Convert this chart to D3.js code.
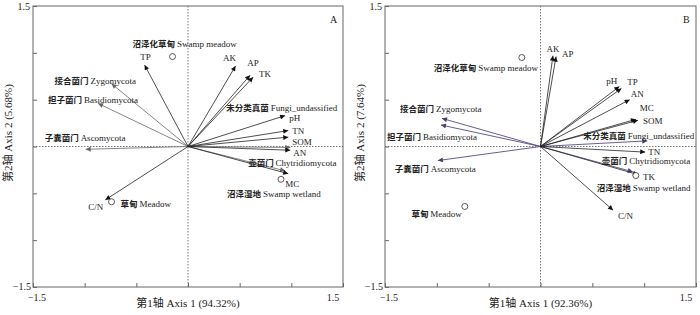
<!DOCTYPE html>
<html>
<head>
<meta charset="utf-8">
<script src="https://cdn.jsdelivr.net/npm/d3@7"></script>
<style>
  body { margin: 0; background: #fff; }
  text { font-family: "Liberation Serif", "Noto Sans CJK SC", serif; fill: #222; }
  .cn { font-family: "Noto Sans CJK SC", sans-serif; font-weight: bold; }
</style>
</head>
<body>
<svg id="rda" width="700" height="315"></svg>
<script>
// ----- data -----
const envNames = ["TP", "AK", "AP", "TK", "pH", "TN", "SOM", "AN", "MC", "C/N"];
const envA_x = [-0.42, 0.46, 0.60, 0.63, 0.94, 0.97, 0.97, 0.99, 0.97, -0.80];
const envA_y = [0.87, 0.86, 0.76, 0.74, 0.33, 0.17, 0.10, -0.04, -0.29, -0.57];
const envB_x = [0.78, 0.12, 0.15, 0.94, 0.76, 1.01, 0.94, 0.86, 0.92, 0.70];
const envB_y = [0.62, 0.97, 0.96, -0.30, 0.64, -0.06, 0.28, 0.50, 0.29, -0.68];

const fungiCn = ["接合菌门", "担子菌门", "子囊菌门", "未分类真菌", "壶菌门"];
const fungiEn = ["Zygomycota", "Basidiomycota", "Ascomycota", "Fungi_undassified", "Chytridiomycota"];
const fungiA_x = [-0.74, -0.87, -0.99, 0.99, 0.94];
const fungiA_y = [0.67, 0.46, -0.03, -0.01, -0.26];
const fungiB_x = [-0.95, -0.96, -0.99, 1.03, 0.89];
const fungiB_y = [0.30, 0.23, -0.15, 0.06, -0.27];

const siteCn = ["沼泽化草甸", "草甸", "沼泽湿地"];
const siteEn = ["Swamp meadow", "Meadow", "Swamp wetland"];
const siteA_x = [-0.15, -0.74, 0.90];
const siteA_y = [0.96, -0.59, -0.35];
const siteB_x = [-0.18, -0.73, 0.92];
const siteB_y = [0.95, -0.64, -0.31];

const axisA = ["第1轴 Axis 1 (94.32%)", "第2轴 Axis 2 (5.68%)"];
const axisB = ["第1轴 Axis 1 (92.36%)", "第2轴 Axis 2 (7.64%)"];
const axisTicks = [-1.5, -1, -0.5, 0, 0.5, 1, 1.5];

// ----- label placement (pixel offsets from the arrow tip / site point) -----
const labA = {
  TP: [1, -5, "middle"], AK: [-6, -5, "middle"], AP: [3, -9, "middle"], TK: [6, 0, "start"],
  pH: [4, 5, "start"], TN: [4, 3, "start"], SOM: [4, 8, "start"], AN: [3, 5.5, "start"],
  MC: [-3, 13, "start"], "C/N": [-2, 10, "end"],
  Zygomycota: [-57, 0, "start"], Basidiomycota: [-50, 0, "start"], Ascomycota: [-41, -8, "start"],
  Fungi_undassified: [-64, -36, "start"], Chytridiomycota: [-37, -5, "start"],
  "Swamp meadow": [-40, -10, "start"], Meadow: [9, 5, "start"], "Swamp wetland": [-54, 18, "start"]
};
const labB = {
  AK: [0, -4, "middle"], AP: [6, 0, "start"], pH: [-2, -3, "end"], TP: [6, -3, "start"],
  AN: [1, -3, "start"], MC: [4, -8, "start"], SOM: [5, 4, "start"], TN: [3, 3, "start"],
  TK: [5, 5, "start"], "C/N": [5, 9, "start"],
  Zygomycota: [-42, -6, "start"], Basidiomycota: [-54, 15, "start"], Ascomycota: [-43, 11, "start"],
  Fungi_undassified: [-64, -2, "start"], Chytridiomycota: [-31, -8, "start"],
  "Swamp meadow": [-88, 13, "start"], Meadow: [-3, 11, "end"], "Swamp wetland": [-39, 15, "start"]
};

const svg = d3.select("svg#rda");
const defs = svg.append("defs");

function addMarker(id, color) {
  defs.append("marker")
      .attr("id", id)
      .attr("viewBox", "0 -5 10 10")
      .attr("refX", 10).attr("refY", 0)
      .attr("markerUnits", "userSpaceOnUse")
      .attr("markerWidth", 7).attr("markerHeight", 5)
      .attr("orient", "auto")
    .append("path")
      .attr("d", "M0,-5L10,0L0,5Z")
      .attr("fill", color);
}
addMarker("headEnv", "#111");
addMarker("headFunA", "#666");
addMarker("headFunB", "#4a3d6e");

function drawPanel(p) {
  const x = d3.scaleLinear().domain([-1.5, 1.5]).range([p.left, p.right]);
  const y = d3.scaleLinear().domain([-1.5, 1.5]).range([p.bottom, p.top]);
  const g = svg.append("g");

  // dotted zero lines
  g.append("line").attr("x1", p.left).attr("x2", p.right).attr("y1", y(0)).attr("y2", y(0))
   .attr("stroke", "#555").attr("stroke-dasharray", "1.5,1.5").attr("stroke-width", 0.8);
  g.append("line").attr("y1", p.top).attr("y2", p.bottom).attr("x1", x(0)).attr("x2", x(0))
   .attr("stroke", "#555").attr("stroke-dasharray", "1.5,1.5").attr("stroke-width", 0.8);

  // frame
  g.append("rect").attr("x", p.left).attr("y", p.top)
   .attr("width", p.right - p.left).attr("height", p.bottom - p.top)
   .attr("fill", "none").attr("stroke", "#666").attr("stroke-width", 1);

  // inner ticks
  const bottomAxis = d3.axisTop(x).tickValues(axisTicks).tickSize(4).tickFormat("");
  g.append("g").attr("transform", "translate(0," + p.bottom + ")").call(bottomAxis)
   .call(s => s.select(".domain").remove())
   .selectAll("line").attr("stroke", "#666");
  const leftAxis = d3.axisRight(y).tickValues(axisTicks).tickSize(4).tickFormat("");
  g.append("g").attr("transform", "translate(" + p.left + ",0)").call(leftAxis)
   .call(s => s.select(".domain").remove())
   .selectAll("line").attr("stroke", "#666");

  // end labels
  g.append("text").attr("x", p.left - 3).attr("y", y(1.5) + 4).attr("text-anchor", "end")
   .attr("font-size", 10).text("1.5");
  g.append("text").attr("x", p.left - 2).attr("y", y(-1.5) + 3).attr("text-anchor", "end")
   .attr("font-size", 10).text("−1.5");
  g.append("text").attr("x", x(-1.5) + 4).attr("y", p.bottom + 14).attr("text-anchor", "middle")
   .attr("font-size", 10).text("−1.5");
  g.append("text").attr("x", x(1.5) - 10).attr("y", p.bottom + 14).attr("text-anchor", "middle")
   .attr("font-size", 10).text("1.5");

  // axis titles
  g.append("text").attr("x", (p.left + p.right) / 2).attr("y", 307).attr("text-anchor", "middle")
   .attr("font-size", 11).text(p.titles[0]);
  g.append("text").attr("transform", "translate(" + p.ytx + ",133) rotate(-90)")
   .attr("text-anchor", "middle").attr("font-size", 11).text(p.titles[1]);

  // panel letter
  g.append("text").attr("x", p.right - 13).attr("y", p.top + 17).attr("font-size", 10).text(p.letter);

  // helper for bilingual labels
  function label(px, py, off, cn, en) {
    const t = g.append("text").attr("x", px + off[0]).attr("y", py + off[1])
               .attr("text-anchor", off[2]).attr("font-size", 9);
    if (cn) t.append("tspan").attr("class", "cn").attr("font-size", 8.5).text(cn + " ");
    t.append("tspan").text(en);
  }

  // fungi arrows
  const fungi = fungiEn.map((n, i) => ({en: n, cn: fungiCn[i], x: p.fx[i], y: p.fy[i]}));
  g.selectAll("line.fun").data(fungi).join("line").attr("class", "fun")
   .attr("x1", x(0)).attr("y1", y(0))
   .attr("x2", d => x(d.x)).attr("y2", d => y(d.y))
   .attr("stroke", p.funColor).attr("stroke-width", 0.9)
   .attr("marker-end", "url(#" + p.funHead + ")");
  fungi.forEach(d => label(x(d.x), y(d.y), p.lab[d.en], d.cn, d.en));

  // environmental arrows
  const env = envNames.map((n, i) => ({n: n, x: p.ex[i], y: p.ey[i]}));
  g.selectAll("line.env").data(env).join("line").attr("class", "env")
   .attr("x1", x(0)).attr("y1", y(0))
   .attr("x2", d => x(d.x)).attr("y2", d => y(d.y))
   .attr("stroke", "#222").attr("stroke-width", 0.8)
   .attr("marker-end", "url(#headEnv)");
  env.forEach(d => label(x(d.x), y(d.y), p.lab[d.n], null, d.n));

  // sites
  const sites = siteEn.map((n, i) => ({en: n, cn: siteCn[i], x: p.sx[i], y: p.sy[i]}));
  g.selectAll("circle.site").data(sites).join("circle").attr("class", "site")
   .attr("cx", d => x(d.x)).attr("cy", d => y(d.y)).attr("r", 3)
   .attr("fill", "#fff").attr("stroke", "#333").attr("stroke-width", 0.8);
  sites.forEach(d => label(x(d.x), y(d.y), p.lab[d.en], d.cn, d.en));
}

drawPanel({left: 33, right: 343, top: 6, bottom: 287, ytx: 12, letter: "A", titles: axisA,
           ex: envA_x, ey: envA_y, fx: fungiA_x, fy: fungiA_y, sx: siteA_x, sy: siteA_y,
           lab: labA, funColor: "#777", funHead: "headFunA"});
drawPanel({left: 385, right: 696, top: 6, bottom: 287, ytx: 364, letter: "B", titles: axisB,
           ex: envB_x, ey: envB_y, fx: fungiB_x, fy: fungiB_y, sx: siteB_x, sy: siteB_y,
           lab: labB, funColor: "#5a4a80", funHead: "headFunB"});
</script>
</body>
</html>
